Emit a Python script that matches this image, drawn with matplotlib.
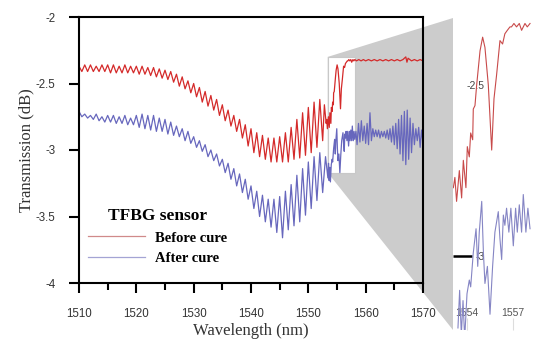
import matplotlib
matplotlib.use("Agg")
import matplotlib.pyplot as plt
from matplotlib.patches import Rectangle, Polygon

# ---- data (wavelength in nm, transmission in dB) ----
before_wl = [1510.0, 1510.5, 1511.0, 1511.5, 1512.0, 1512.5, 1513.0, 1513.5, 1514.0, 1514.5,
             1515.0, 1515.5, 1516.0, 1516.5, 1517.0, 1517.5, 1518.0, 1518.5, 1519.0, 1519.5,
             1520.0, 1520.5, 1521.0, 1521.5, 1522.0, 1522.5, 1523.0, 1523.5, 1524.0, 1524.5,
             1525.0, 1525.5, 1526.0, 1526.5, 1527.0, 1527.5, 1528.0, 1528.5, 1529.0, 1529.5,
             1530.0, 1530.5, 1531.0, 1531.5, 1532.0, 1532.5, 1533.0, 1533.5, 1534.0, 1534.5,
             1535.0, 1535.5, 1536.0, 1536.5, 1537.0, 1537.5, 1538.0, 1538.5, 1539.0, 1539.5,
             1540.0, 1540.5, 1541.0, 1541.5, 1542.0, 1542.5, 1543.0, 1543.5, 1544.0, 1544.5,
             1545.0, 1545.5, 1546.0, 1546.5, 1547.0, 1547.5, 1548.0, 1548.5, 1549.0, 1549.5,
             1550.0, 1550.5, 1551.0, 1551.5, 1552.0, 1552.5, 1552.8,
             1553.11, 1553.21, 1553.32, 1553.50, 1553.65, 1553.76, 1553.93, 1554.02, 1554.15,
             1554.24, 1554.37, 1554.41, 1554.52, 1554.63, 1554.74, 1554.85, 1555.02, 1555.17,
             1555.39, 1555.61, 1555.76, 1555.93, 1556.15, 1556.32, 1556.47, 1556.63, 1556.80,
             1556.90, 1557.06, 1557.23, 1557.41, 1557.56, 1557.78, 1557.93, 1558.11,
             1558.4, 1558.8, 1559.2, 1559.6, 1560.0, 1560.5, 1561.0, 1561.5, 1562.0, 1562.5,
             1563.0, 1563.5, 1564.0, 1564.5, 1565.0, 1565.5, 1566.0, 1566.5, 1567.0, 1567.2,
             1567.4, 1568.0, 1568.5, 1569.0, 1569.5, 1570.0]
before_cure = [-2.37, -2.41, -2.36, -2.41, -2.36, -2.41, -2.37, -2.41, -2.36, -2.41,
               -2.36, -2.42, -2.36, -2.42, -2.37, -2.42, -2.36, -2.42, -2.37, -2.42,
               -2.37, -2.43, -2.37, -2.43, -2.38, -2.44, -2.38, -2.45, -2.39, -2.46,
               -2.40, -2.47, -2.41, -2.49, -2.43, -2.52, -2.45, -2.54, -2.48, -2.57,
               -2.50, -2.60, -2.53, -2.64, -2.56, -2.67, -2.59, -2.70, -2.62, -2.74,
               -2.66, -2.78, -2.70, -2.82, -2.74, -2.86, -2.77, -2.91, -2.81, -2.97,
               -2.84, -3.02, -2.87, -3.05, -2.89, -3.07, -2.91, -3.09, -2.91, -3.09,
               -2.90, -3.09, -2.87, -3.09, -2.83, -3.07, -2.77, -3.06, -2.72, -3.04,
               -2.68, -3.02, -2.64, -2.98, -2.62, -2.93, -2.66,
               -2.80, -2.77, -2.84, -2.75, -2.83, -2.72, -2.80, -2.68, -2.71,
               -2.64, -2.66, -2.57, -2.56, -2.50, -2.45, -2.40, -2.36, -2.39,
               -2.50, -2.69, -2.54, -2.47, -2.37, -2.38, -2.35, -2.34, -2.33,
               -2.33, -2.32, -2.33, -2.32, -2.34, -2.32, -2.33, -2.32,
               -2.33, -2.32, -2.33, -2.32, -2.33, -2.32, -2.33, -2.32, -2.33, -2.32,
               -2.33, -2.32, -2.33, -2.32, -2.33, -2.32, -2.33, -2.32, -2.30, -2.34,
               -2.31, -2.33, -2.32, -2.33, -2.32, -2.33]

after_wl = [1510.0, 1510.5, 1511.0, 1511.5, 1512.0, 1512.5, 1513.0, 1513.5, 1514.0, 1514.5,
            1515.0, 1515.5, 1516.0, 1516.5, 1517.0, 1517.5, 1518.0, 1518.5, 1519.0, 1519.5,
            1520.0, 1520.5, 1521.0, 1521.5, 1522.0, 1522.5, 1523.0, 1523.5, 1524.0, 1524.5,
            1525.0, 1525.5, 1526.0, 1526.5, 1527.0, 1527.5, 1528.0, 1528.5, 1529.0, 1529.5,
            1530.0, 1530.5, 1531.0, 1531.5, 1532.0, 1532.5, 1533.0, 1533.5, 1534.0, 1534.5,
            1535.0, 1535.5, 1536.0, 1536.5, 1537.0, 1537.5, 1538.0, 1538.5, 1539.0, 1539.5,
            1540.0, 1540.5, 1541.0, 1541.5, 1542.0, 1542.5, 1543.0, 1543.5, 1544.0, 1544.5,
            1545.0, 1545.5, 1546.0, 1546.5, 1547.0, 1547.5, 1548.0, 1548.5, 1549.0, 1549.5,
            1550.0, 1550.5, 1551.0, 1551.5, 1552.0, 1552.5, 1553.0,
            1553.41, 1553.52, 1553.63, 1553.74, 1553.85, 1554.00, 1554.15, 1554.24, 1554.41,
            1554.59, 1554.70, 1554.80, 1554.96, 1555.07, 1555.17, 1555.33, 1555.50, 1555.67,
            1555.82, 1556.04, 1556.15, 1556.26, 1556.37, 1556.47, 1556.58, 1556.73, 1556.86,
            1557.02, 1557.17, 1557.28, 1557.41, 1557.56, 1557.67, 1557.84, 1557.97, 1558.11,
            1558.3, 1558.5, 1558.75, 1559.0, 1559.25, 1559.5, 1559.75, 1560.0, 1560.25, 1560.5,
            1560.75, 1561.0, 1561.25, 1561.5, 1561.75, 1562.0, 1562.25, 1562.5, 1562.75, 1563.0,
            1563.25, 1563.5, 1563.75, 1564.0, 1564.25, 1564.5, 1564.75, 1565.0, 1565.25, 1565.5,
            1565.75, 1566.0, 1566.25, 1566.5, 1566.75, 1567.0, 1567.25, 1567.5, 1567.75, 1568.0,
            1568.25, 1568.5, 1568.75, 1569.0, 1569.25, 1569.5, 1569.75, 1570.0]
after_cure = [-2.71, -2.75, -2.73, -2.76, -2.74, -2.77, -2.73, -2.78, -2.75, -2.79,
              -2.74, -2.79, -2.74, -2.80, -2.75, -2.80, -2.74, -2.81, -2.76, -2.81,
              -2.74, -2.83, -2.73, -2.84, -2.74, -2.85, -2.74, -2.86, -2.76, -2.86,
              -2.77, -2.88, -2.79, -2.89, -2.82, -2.90, -2.84, -2.93, -2.86, -2.95,
              -2.90, -2.98, -2.93, -3.01, -2.96, -3.05, -3.00, -3.08, -3.03, -3.12,
              -3.07, -3.17, -3.10, -3.22, -3.14, -3.27, -3.18, -3.32, -3.22, -3.37,
              -3.27, -3.44, -3.31, -3.50, -3.34, -3.54, -3.37, -3.58, -3.37, -3.62,
              -3.35, -3.66, -3.31, -3.60, -3.26, -3.57, -3.19, -3.54, -3.14, -3.49,
              -3.09, -3.44, -3.05, -3.38, -3.02, -3.32, -3.05,
              -3.21, -3.10, -3.23, -3.13, -3.24, -3.11, -3.07, -3.09, -2.99,
              -2.92, -3.03, -2.93, -2.84, -2.99, -3.08, -3.03, -3.17, -3.03,
              -2.93, -2.87, -2.95, -3.01, -2.88, -2.91, -2.86, -2.93, -2.86,
              -2.97, -2.86, -2.93, -2.85, -2.93, -2.82, -2.93, -2.86, -2.92,
              -2.86, -2.96, -2.80, -2.94, -2.78, -2.93, -2.82, -2.95, -2.80, -2.96,
              -2.72, -2.93, -2.84, -2.90, -2.85, -2.90, -2.85, -2.91, -2.86, -2.90,
              -2.86, -2.91, -2.85, -2.92, -2.84, -2.94, -2.82, -2.96, -2.80, -2.99,
              -2.77, -3.03, -2.74, -3.08, -2.71, -3.11, -2.70, -3.07, -2.76, -3.02,
              -2.80, -2.96, -2.84, -2.93, -2.83, -2.98, -2.85, -2.95]

zoom_x = [1553.38, 1558.2]
zoom_y = [-3.17, -2.30]
inset_end = 1558.11

red = '#d42a2a'
blue = '#6767bd'
serif = ['Liberation Serif', 'DejaVu Serif']
sans = ['Liberation Sans', 'DejaVu Sans']

fig = plt.figure(figsize=(5.5, 3.52), dpi=100)
ax = fig.add_axes([79/550, 1-283/352, 344/550, 266/352])
ax.set_facecolor('none')

# white zoom window
ax.add_patch(Rectangle((zoom_x[0], zoom_y[0]), zoom_x[1]-zoom_x[0], zoom_y[1]-zoom_y[0],
                       facecolor='white', edgecolor='#c8c8c8', lw=0.8, zorder=1))
ax.plot(before_wl, before_cure, color=red, lw=0.9, label='Before cure', zorder=2)
ax.plot(after_wl, after_cure, color=blue, lw=0.9, label='After cure', zorder=2)

ax.set_xlim(1510, 1570)
ax.set_ylim(-4, -2)
ax.set_xticks([1510, 1520, 1530, 1540, 1550, 1560, 1570])
ax.set_xticks([1515, 1525, 1535, 1545, 1555, 1565], minor=True)
ax.set_yticks([-4, -3.5, -3, -2.5, -2])
ax.set_yticklabels(['-4', '-3.5', '-3', '-2.5', '-2'])
for s in ax.spines.values():
    s.set_linewidth(1.5)
ax.tick_params(axis='x', which='major', direction='out', length=7, width=1.5, pad=11,
               labelsize=8.3, labelcolor='#333333')
ax.tick_params(axis='x', which='minor', direction='out', length=5, width=1.5)
ax.tick_params(axis='y', direction='out', length=7, width=1.5, pad=10,
               labelsize=8.3, labelcolor='#333333')
for lab in ax.get_xticklabels() + ax.get_yticklabels():
    lab.set_family(sans)
ax.set_xlabel('Wavelength (nm)', family=serif, fontsize=12, color='#333333', labelpad=2)
ax.set_ylabel('Transmission (dB)', family=serif, fontsize=12, color='#333333', labelpad=1)

leg = ax.legend(loc='upper left', bbox_to_anchor=(88/550, 1-208/352), bbox_transform=fig.transFigure,
                frameon=False, title='TFBG sensor', borderpad=0, borderaxespad=0,
                handlelength=3.9, handletextpad=0.7, labelspacing=0.5,
                prop={'family': serif, 'weight': 'bold', 'size': 10.5},
                title_fontproperties={'family': serif, 'weight': 'bold', 'size': 12.5})
leg.legend_handles[0].set_color('#d08a8a')
leg.legend_handles[1].set_color('#a4a4d4')

# magnified view on the right (only the zoomed part of each spectrum)
in_b = [(w, v) for w, v in zip(before_wl, before_cure) if zoom_x[0] - 0.3 <= w <= inset_end]
in_a = [(w, v) for w, v in zip(after_wl, after_cure) if zoom_x[0] - 0.3 <= w <= inset_end]
ax_in = fig.add_axes([453/550, 22/352, 110/550, 312/352])
ax_in.plot([p[0] for p in in_b], [p[1] for p in in_b], color='#c84a4a', lw=0.8)
ax_in.plot([p[0] for p in in_a], [p[1] for p in in_a], color='#8585c4', lw=0.8)
ax_in.set_xlim(1553.087, 1560.26)
ax_in.set_ylim(-3.216, -2.304)
for s in ax_in.spines.values():
    s.set_visible(False)
ax_in.set_xticks([1554, 1557])
ax_in.set_yticks([-3, -2.5])
ax_in.set_yticklabels(['-3', '-2.5'])
ax_in.tick_params(axis='x', direction='in', length=9, width=0.8, color='#dddddd', pad=-16,
                  labelsize=7.5, labelcolor='#555555')
ax_in.tick_params(axis='y', direction='in', length=14, width=1.8, color='black', pad=-23,
                  labelsize=7.5, labelcolor='#444444')
ax_in.yaxis.get_major_ticks()[1].tick1line.set_visible(False)
for lab in ax_in.get_xticklabels() + ax_in.get_yticklabels():
    lab.set_family(sans)

# grey connector between the zoom window and the magnified view
inv = fig.transFigure.inverted()
a = inv.transform(ax.transData.transform((zoom_x[0], zoom_y[1])))
d = inv.transform(ax.transData.transform((zoom_x[0], zoom_y[0])))
b = inv.transform(ax_in.transAxes.transform((0, 1)))
c = inv.transform(ax_in.transAxes.transform((0, 0)))
fig.patches.append(Polygon([a, b, c, d], closed=True, facecolor='#cccccc', edgecolor='none',
                           transform=fig.transFigure, zorder=-1))

fig.savefig('out.png', dpi=100)
